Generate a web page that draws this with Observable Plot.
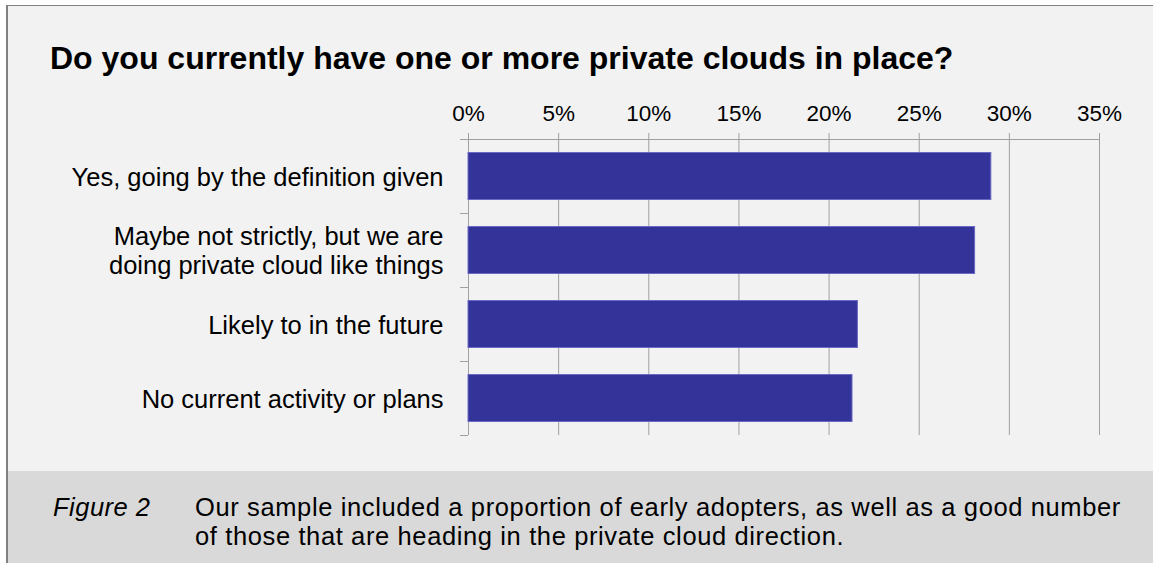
<!DOCTYPE html>
<html>
<head>
<meta charset="utf-8">
<script src="https://cdn.jsdelivr.net/npm/d3@7"></script>
<script src="https://cdn.jsdelivr.net/npm/@observablehq/plot@0.6"></script>
<style>
  html, body { margin: 0; padding: 0; background: #ffffff; }
  #wrap { position: relative; width: 1153px; height: 563px; overflow: hidden; background: #ffffff; font-family: "Liberation Sans", Arial, sans-serif; }
  #panel { position: absolute; left: 6px; top: 5px; width: 1200px; height: 600px; background: #f2f2f2; border-left: 2px solid #808080; border-top: 1px solid #808080; }
  #capbg { position: absolute; left: 8px; top: 471px; width: 1200px; height: 120px; background: #d9d9d9; }
  #title { position: absolute; left: 50px; top: 42px; font-size: 32px; font-weight: bold; line-height: 1; color: #000; white-space: nowrap; }
  #chart { position: absolute; left: 0; top: 90px; }
  #fig { position: absolute; left: 53px; top: 493px; font-size: 25.5px; letter-spacing: 0.5px; font-style: italic; line-height: 29px; color: #000; white-space: nowrap; }
  #cap { position: absolute; left: 195px; top: 493px; font-size: 25.5px; letter-spacing: 0.62px; line-height: 29px; color: #000; white-space: nowrap; }
</style>
</head>
<body>
<div id="wrap">
  <div id="panel"></div>
  <div id="capbg"></div>
  <div id="title"></div>
  <div id="chart"></div>
  <div id="fig"></div>
  <div id="cap"></div>
</div>
<script>
const titleText = "Do you currently have one or more private clouds in place?";
const categories = [
  "Yes, going by the definition given",
  "Maybe not strictly, but we are\ndoing private cloud like things",
  "Likely to in the future",
  "No current activity or plans"
];
const values = [29.0, 28.1, 21.6, 21.3];
const xTicks = [0, 5, 10, 15, 20, 25, 30, 35];
const figureLabel = "Figure 2";
const captionLines = [
  "Our sample included a proportion of early adopters, as well as a good number",
  "of those that are heading in the private cloud direction."
];

document.getElementById("title").textContent = titleText;
document.getElementById("fig").textContent = figureLabel;
document.getElementById("cap").innerHTML = captionLines.join("<br>");

const data = categories.map((c, i) => ({category: c, value: values[i]}));
const gridColor = "#a0a0a0";

const chart = Plot.plot({
  width: 1153,
  height: 355,
  marginTop: 49,
  marginBottom: 10,
  marginLeft: 468,
  marginRight: 54,
  style: {background: "transparent", fontFamily: "Liberation Sans, Arial, sans-serif", color: "#000"},
  x: {domain: [0, 35], label: null},
  y: {domain: categories, padding: 0, label: null},
  marks: [
    Plot.gridX(xTicks, {stroke: gridColor, strokeOpacity: 1, strokeWidth: 1}),
    Plot.axisX(xTicks, {anchor: "top", label: null, tickSize: 7, tickPadding: 11.5, stroke: gridColor, strokeOpacity: 1, fontSize: 22.5, tickFormat: d => d + "%"}),
    Plot.ruleY([0], {y: () => categories[0], x1: 0, x2: 35, dy: -37, stroke: gridColor}),
    Plot.axisY(categories, {anchor: "left", label: null, text: null, tickSize: 8, dy: -37, stroke: gridColor, strokeOpacity: 1}),
    Plot.axisY([categories[categories.length - 1]], {anchor: "left", label: null, text: null, tickSize: 8, dy: 37, stroke: gridColor, strokeOpacity: 1}),
    Plot.axisY(categories, {anchor: "left", label: null, tickSize: 0, tickPadding: 25, fontSize: 25.5, lineHeight: 1.12, fill: "#000"}),
    Plot.barX(data, {x: "value", y: "category", fill: "#333399", stroke: "#6a6ac4", strokeWidth: 1, insetTop: 13.5, insetBottom: 13.5})
  ]
});
document.getElementById("chart").appendChild(chart);
</script>
</body>
</html>
